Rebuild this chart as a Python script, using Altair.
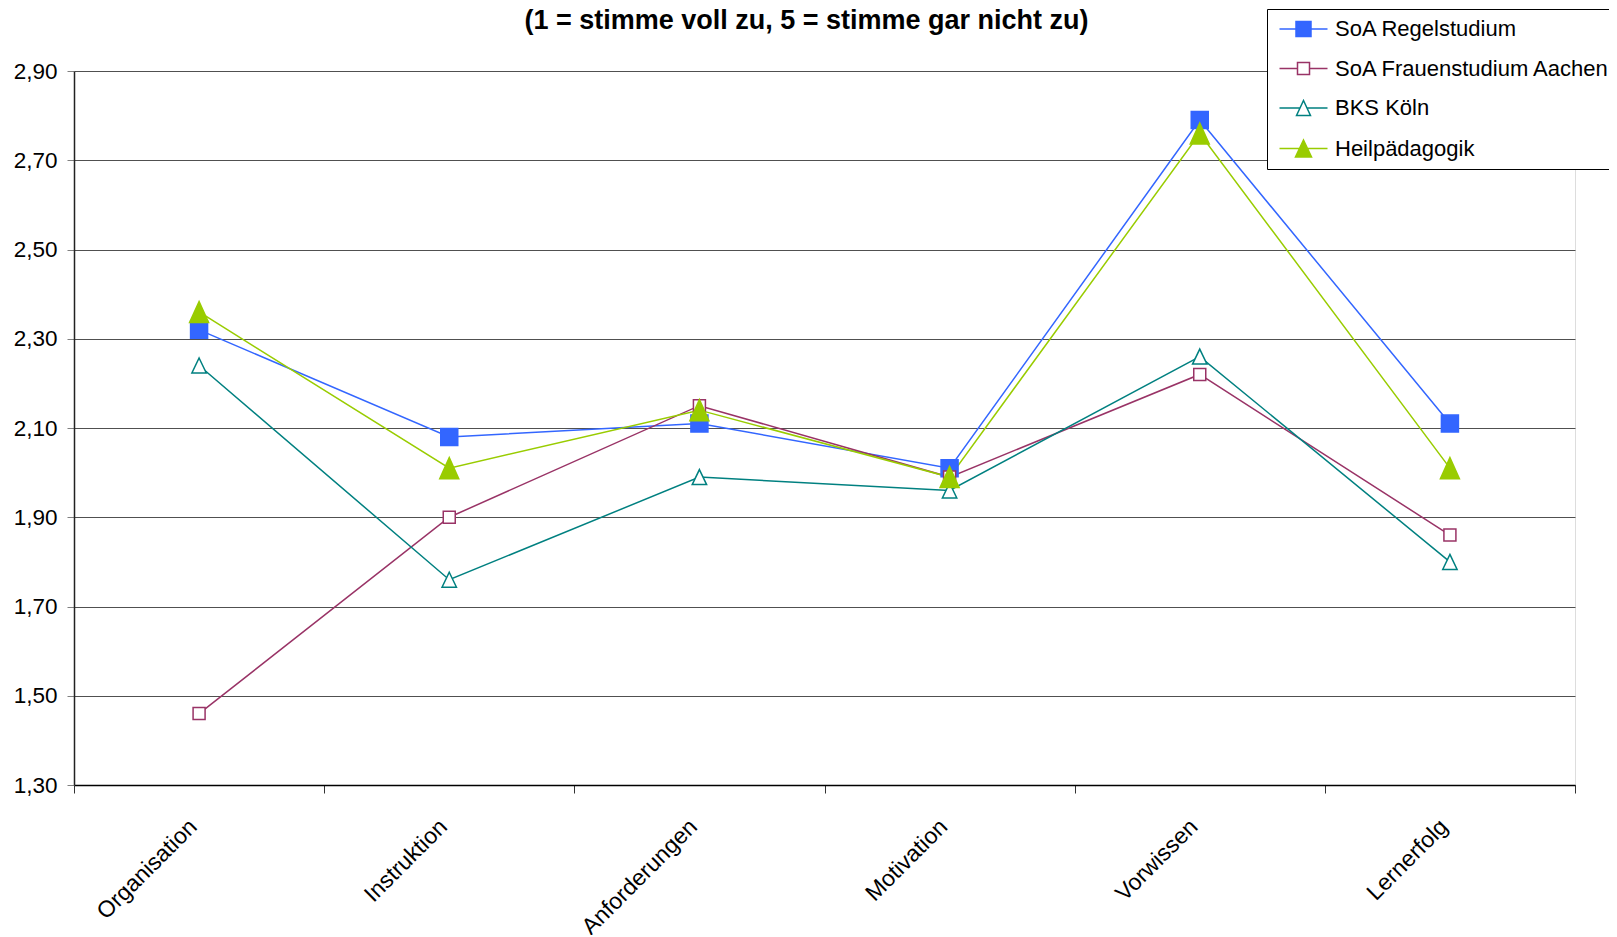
import altair as alt
import pandas as pd

categories = ["Organisation", "Instruktion", "Anforderungen", "Motivation", "Vorwissen", "Lernerfolg"]
series_names = ["SoA Regelstudium", "SoA Frauenstudium Aachen", "BKS Köln", "Heilpädagogik"]
regel = [2.32, 2.08, 2.11, 2.01, 2.79, 2.11]
frauen = [1.46, 1.90, 2.15, 1.99, 2.22, 1.86]
bks = [2.24, 1.76, 1.99, 1.96, 2.26, 1.80]
heil = [2.36, 2.01, 2.14, 1.99, 2.76, 2.01]
tick_values = [1.30, 1.50, 1.70, 1.90, 2.10, 2.30, 2.50, 2.70, 2.90]
title_text = "(1 = stimme voll zu, 5 = stimme gar nicht zu)"

line_colors = ["#3366FF", "#993366", "#008080", "#99CC00"]
fill_colors = ["#3366FF", "#FFFFFF", "#FFFFFF", "#99CC00"]

marker_paths = [
    "M-0.85,-0.85H0.85V0.85H-0.85Z",
    "M-0.6,-0.6H0.6V0.6H-0.6Z",
    "M0,-0.75L0.72,0.75H-0.72Z",
    "M0,-1.05L0.95,1.05H-0.95Z",
]
legend_paths = [
    "M-1,0H1.2M3.2,0H5.4M1.2,-1H3.2V1H1.2Z",
    "M-1,0H1.4M3,0H5.4M1.4,-0.8H3V0.8H1.4Z",
    "M-1,0H1.73M2.67,0H5.4M2.2,-1L3.13,1H1.27Z",
    "M-1,0H1.6M2.8,0H5.4M2.2,-1.13L3.27,1.13H1.13Z",
]

rows = []
for name, vals in zip(series_names, [regel, frauen, bks, heil]):
    for c, v in zip(categories, vals):
        rows.append({"category": c, "series": name, "value": v})
df = pd.DataFrame(rows)

FONT = "Liberation Sans"

x_enc = alt.X(
    "category:N",
    sort=categories,
    scale=alt.Scale(type="band", paddingInner=0, paddingOuter=0),
    axis=alt.Axis(
        title=None, labelAngle=-45, labelAlign="right", labelBaseline="top",
        labelFont=FONT, labelFontSize=23, labelColor="black", labelLimit=400,
        labelPadding=22, labelOffset=-14, tickBand="extent", tickSize=8, tickColor="#333333",
        domainColor="black", domainWidth=1.5, grid=False,
    ),
)
y_enc = alt.Y(
    "value:Q",
    scale=alt.Scale(domain=[1.3, 2.9], nice=False, zero=False),
    axis=alt.Axis(
        title=None, values=tick_values,
        labelExpr="replace(format(datum.value, '.2f'), '.', ',')",
        labelFont=FONT, labelFontSize=22.5, labelColor="black", labelPadding=10,
        tickSize=7, tickColor="#808080", domainColor="#222222", domainWidth=1.5,
        grid=True, gridColor="#505050", gridWidth=1,
    ),
)

base = alt.Chart(df)

lines = base.mark_line(strokeWidth=1.5).encode(
    x=x_enc, y=y_enc,
    color=alt.Color("series:N", scale=alt.Scale(domain=series_names, range=line_colors), legend=None),
)

points = base.mark_point(opacity=1, strokeWidth=1.5, size=400).encode(
    x=x_enc, y=y_enc,
    shape=alt.Shape("series:N", scale=alt.Scale(domain=series_names, range=marker_paths), legend=None),
    fill=alt.Fill("series:N", scale=alt.Scale(domain=series_names, range=fill_colors), legend=None),
    stroke=alt.Stroke("series:N", scale=alt.Scale(domain=series_names, range=line_colors), legend=None),
)

leg = alt.Legend(
    title=None, orient="none", legendX=1193, legendY=-62,
    fillColor="white", strokeColor="black", padding=9,
    labelFont=FONT, labelFontSize=22, labelColor="black", labelLimit=500,
    symbolSize=225, symbolStrokeWidth=1.5, labelOffset=37, rowPadding=17.5,
    symbolOpacity=1,
)

legend_layer = base.transform_filter("false").mark_point(opacity=1, strokeWidth=1.5).encode(
    shape=alt.Shape("series:N", scale=alt.Scale(domain=series_names, range=legend_paths), legend=leg),
    fill=alt.Fill("series:N", scale=alt.Scale(domain=series_names, range=fill_colors), legend=leg),
    stroke=alt.Stroke("series:N", scale=alt.Scale(domain=series_names, range=line_colors), legend=leg),
)

chart = alt.layer(lines, points, legend_layer).resolve_scale(
    shape="independent", fill="independent", stroke="independent"
).properties(
    width=1501, height=714,
    title=alt.TitleParams(
        title_text, font=FONT, fontSize=27, fontWeight="bold", color="black",
        anchor="middle", frame="group", offset=0, dx=-18, dy=47, baseline="alphabetic",
    ),
    autosize=alt.AutoSizeParams(type="none"),
    padding={"left": 66, "top": 63, "right": 34, "bottom": 150},
).configure_view(stroke="#808080", strokeWidth=1).configure(background="white")

chart.save("out.html", embed_options={"renderer": "svg", "actions": False})
